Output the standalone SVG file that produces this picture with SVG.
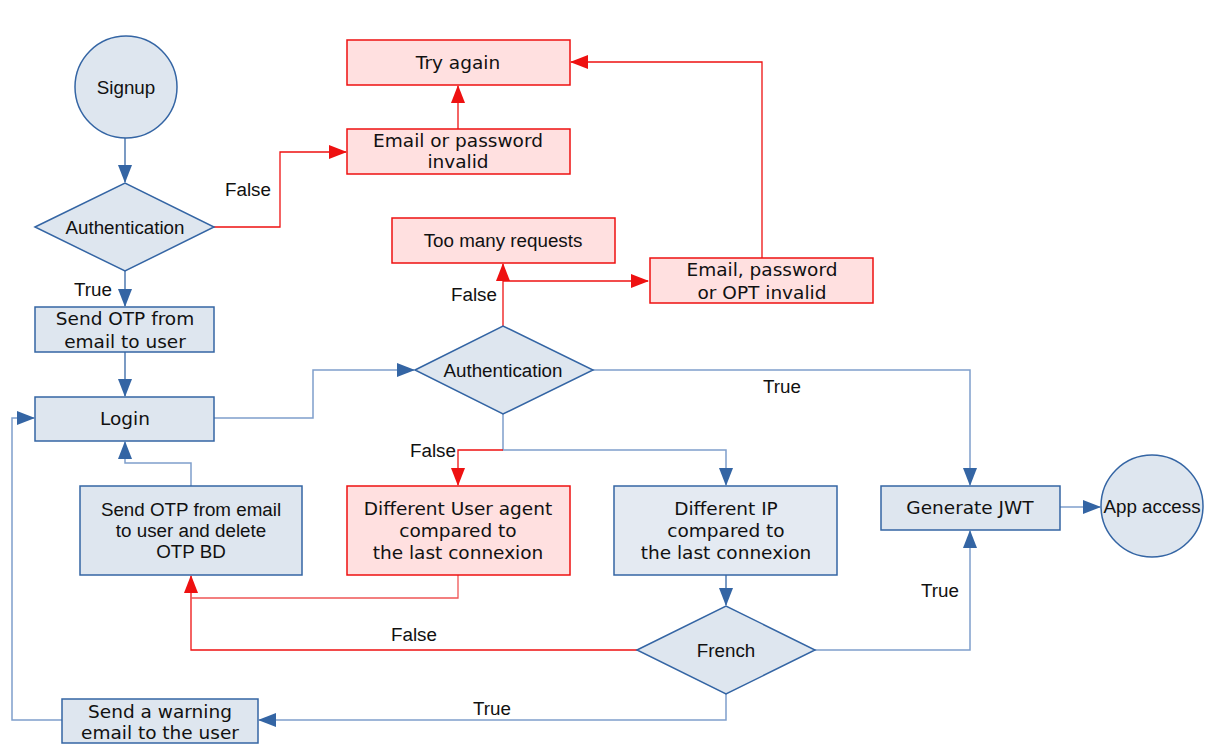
<svg xmlns="http://www.w3.org/2000/svg" width="1212" height="746" viewBox="0 0 1212 746">
<defs>
<marker id="ab" markerUnits="userSpaceOnUse" markerWidth="18" markerHeight="14" viewBox="0 0 18 14" refX="17" refY="7" orient="auto"><path d="M0,0 L18,7 L0,14 Z" fill="#3465a4"/></marker>
<marker id="ar" markerUnits="userSpaceOnUse" markerWidth="18" markerHeight="14" viewBox="0 0 18 14" refX="17" refY="7" orient="auto"><path d="M0,0 L18,7 L0,14 Z" fill="#ee1111"/></marker>
<style>
.b{fill:#dee6ef;stroke:#3465a4;stroke-width:1.5}
.r{fill:#ffe0e0;stroke:#ee1111;stroke-width:1.5}
.t{font-family:"Liberation Sans",Arial,sans-serif;font-size:18.8px;fill:#111;text-anchor:middle}
.d{font-family:"DejaVu Sans",sans-serif;font-size:18.5px;fill:#111;text-anchor:middle}
.cb{fill:none;stroke:#3465a4;stroke-width:1.3}
.cl{fill:none;stroke:#7f9fcc;stroke-width:1.5}
.cr{fill:none;stroke:#ee1111;stroke-width:1.3}
</style>
</defs>
<rect width="1212" height="746" fill="#fff"/>
<g id="connectors">
<path class="cb" d="M125,138 V182" marker-end="url(#ab)"/>
<path class="cr" d="M214,227 H280 V152 H346" marker-end="url(#ar)"/>
<path class="cr" d="M458,129 V86" marker-end="url(#ar)"/>
<path class="cr" d="M762,258 V62 H571" marker-end="url(#ar)"/>
<path class="cb" d="M125,271 V306" marker-end="url(#ab)"/>
<path class="cb" d="M125,352 V396" marker-end="url(#ab)"/>
<path class="cl" d="M214,418 H313 V370 H414" marker-end="url(#ab)"/>
<path class="cr" d="M503,326 V264" marker-end="url(#ar)"/>
<path class="cr" d="M503,281 H648" marker-end="url(#ar)"/>
<path class="cl" d="M593,370 H970 V485" marker-end="url(#ab)"/>
<path class="cl" d="M503,414 V450 H726 V485" marker-end="url(#ab)"/>
<path class="cr" d="M503,450 H458 V485" marker-end="url(#ar)"/>
<path class="cl" d="M191,486 V463 H125 V442" marker-end="url(#ab)"/>
<path class="cb" d="M726,575 V605" marker-end="url(#ab)"/>
<path class="cr" d="M637,650 H191 V576" marker-end="url(#ar)"/>
<path class="cr" d="M458,575 V598 H191" style="stroke:#f05555"/>
<path class="cl" d="M815,650 H970 V531" marker-end="url(#ab)"/>
<path class="cl" d="M1060,507 H1100" marker-end="url(#ab)"/>
<path class="cl" d="M726,694 V720 H259" marker-end="url(#ab)"/>
<path class="cl" d="M62,720 H12 V418 H34" marker-end="url(#ab)"/>
<text class="t" x="248" y="196">False</text>
<text class="t" x="93" y="296">True</text>
<text class="t" x="474" y="301">False</text>
<text class="t" x="782" y="393">True</text>
<text class="t" x="433" y="457">False</text>
<text class="t" x="940" y="597">True</text>
<text class="t" x="414" y="641">False</text>
<text class="t" x="492" y="715">True</text>
</g>
<g id="signup"><circle class="b" cx="126" cy="87" r="51"/><text class="t" x="126" y="94">Signup</text></g>
<g id="auth1"><path class="b" d="M35,227 L125,183 L214,227 L125,271 Z"/><text class="t" x="125" y="234">Authentication</text></g>
<g id="tryagain"><rect class="r" x="347" y="40" width="223" height="45"/><text class="d" x="458" y="69">Try again</text></g>
<g id="emailinvalid"><rect class="r" x="347" y="129" width="223" height="45"/><text class="d" x="458" y="147">Email or password</text><text class="d" x="458" y="168">invalid</text></g>
<g id="toomany"><rect class="r" x="392" y="218" width="223" height="45"/><text class="t" x="503" y="247">Too many requests</text></g>
<g id="emailotp"><rect class="r" x="650" y="258" width="223" height="45"/><text class="d" x="762" y="276">Email, password</text><text class="d" x="762" y="299">or OPT invalid</text></g>
<g id="sendotp"><rect class="b" x="35" y="307" width="179" height="45"/><text class="d" x="125" y="325">Send OTP from</text><text class="d" x="125" y="348">email to user</text></g>
<g id="login"><rect class="b" x="35" y="397" width="179" height="44"/><text class="d" x="125" y="425">Login</text></g>
<g id="auth2"><path class="b" d="M415,370 L503,326 L593,370 L503,414 Z"/><text class="t" x="503" y="377">Authentication</text></g>
<g id="sendotpdelete"><rect class="b" x="80" y="486" width="222" height="89"/><text class="t" x="191" y="516">Send OTP from email</text><text class="t" x="191" y="537">to user and delete</text><text class="t" x="191" y="558">OTP BD</text></g>
<g id="useragent"><rect class="r" x="347" y="486" width="223" height="89"/><text class="d" x="458" y="515">Different User agent</text><text class="d" x="458" y="537">compared to</text><text class="d" x="458" y="559">the last connexion</text></g>
<g id="diffip"><rect class="b" x="614" y="486" width="223" height="89" style="fill:#e4eaf2"/><text class="d" x="726" y="515">Different IP</text><text class="d" x="726" y="537">compared to</text><text class="d" x="726" y="559">the last connexion</text></g>
<g id="jwt"><rect class="b" x="881" y="486" width="179" height="44"/><text class="d" x="970" y="514">Generate JWT</text></g>
<g id="appaccess"><circle class="b" cx="1152" cy="506" r="51"/><text class="t" x="1152" y="513">App access</text></g>
<g id="french"><path class="b" d="M637,650 L726,606 L815,650 L726,694 Z"/><text class="t" x="726" y="657">French</text></g>
<g id="warning"><rect class="b" x="62" y="699" width="196" height="44"/><text class="d" x="160" y="718">Send a warning</text><text class="d" x="160" y="739">email to the user</text></g>
</svg>
